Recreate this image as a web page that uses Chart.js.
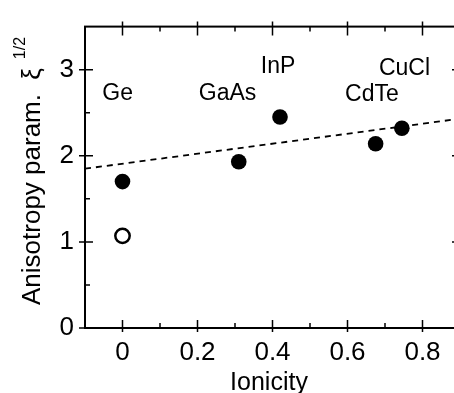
<!DOCTYPE html>
<html>
<head>
<meta charset="utf-8">
<script src="https://cdn.jsdelivr.net/npm/chart.js@4.4.1/dist/chart.umd.min.js"></script>
<style>
  html, body { margin: 0; padding: 0; overflow: hidden; background: #fff; }
  canvas { display: block; }
</style>
</head>
<body>
<canvas id="anisoChart" width="470" height="393"></canvas>
<script>
const ionicity = [0, 0.31, 0.42, 0.675, 0.745];
const anisotropy = [1.70, 1.93, 2.45, 2.14, 2.32];
const openIonicity = [0];
const openAnisotropy = [1.07];
const fitX = [-0.1, 0.9];
const fitY = [1.85, 2.43];
const labelNames = ["Ge", "GaAs", "InP", "CdTe", "CuCl"];
const labelX = [-0.013, 0.28, 0.415, 0.665, 0.752];
const labelY = [2.65, 2.65, 2.96, 2.64, 2.94];
const xTicks = [0, 0.2, 0.4, 0.6, 0.8];
const xMinorTicks = [-0.1, 0.1, 0.3, 0.5, 0.7, 0.9];
const yTicks = [0, 1, 2, 3];
const yMinorTicks = [0.5, 1.5, 2.5];

const fontFamily = "'Liberation Sans', Arial, Helvetica, sans-serif";

const toPoints = (xs, ys) => xs.map((x, i) => ({ x: x, y: ys[i] }));

// frame, inward ticks, compound labels and axis titles
const framePlugin = {
  id: "frame",
  afterDraw(chart) {
    const ctx = chart.ctx;
    const area = chart.chartArea;
    const xs = chart.scales.x;
    const ys = chart.scales.y;
    ctx.save();
    ctx.strokeStyle = "#000";
    ctx.lineWidth = 2;
    ctx.strokeRect(area.left, area.top, area.right - area.left, area.bottom - area.top);

    ctx.lineWidth = 1.5;
    ctx.beginPath();
    xTicks.forEach((v) => {
      const px = xs.getPixelForValue(v);
      ctx.moveTo(px, area.bottom + 4);
      ctx.lineTo(px, area.bottom - 8);
      ctx.moveTo(px, area.top - 5);
      ctx.lineTo(px, area.top + 9);
    });
    xMinorTicks.forEach((v) => {
      const px = xs.getPixelForValue(v);
      ctx.moveTo(px, area.bottom);
      ctx.lineTo(px, area.bottom - 5);
      ctx.moveTo(px, area.top);
      ctx.lineTo(px, area.top + 5);
    });
    yTicks.forEach((v) => {
      const py = ys.getPixelForValue(v);
      ctx.moveTo(area.left - 6, py);
      ctx.lineTo(area.left + 8, py);
      ctx.moveTo(area.right + 6, py);
      ctx.lineTo(area.right - 8, py);
    });
    yMinorTicks.forEach((v) => {
      const py = ys.getPixelForValue(v);
      ctx.moveTo(area.left, py);
      ctx.lineTo(area.left + 5, py);
      ctx.moveTo(area.right, py);
      ctx.lineTo(area.right - 5, py);
    });
    ctx.stroke();

    ctx.fillStyle = "#000";
    ctx.textAlign = "center";
    ctx.textBaseline = "alphabetic";
    ctx.font = "23px " + fontFamily;
    labelNames.forEach((name, i) => {
      ctx.fillText(name, xs.getPixelForValue(labelX[i]), ys.getPixelForValue(labelY[i]));
    });

    ctx.font = "25px " + fontFamily;
    ctx.fillText("Ionicity", 269, 390);

    // rotated y title with superscript
    ctx.translate(40, 305);
    ctx.rotate(-Math.PI / 2);
    ctx.textAlign = "left";
    ctx.font = "26px " + fontFamily;
    const mainText = "Anisotropy param.";
    ctx.fillText(mainText, 0, 0);
    let w = ctx.measureText(mainText + " ").width + 7;
    ctx.fillText("ξ", w, 0);
    w += ctx.measureText("ξ").width;
    ctx.font = "16px " + fontFamily;
    ctx.fillText("1/2", w + 9, -15);
    ctx.restore();
  }
};

const chartConfig = {
  type: "scatter",
  data: {
    datasets: [
      {
        data: toPoints(ionicity, anisotropy),
        pointRadius: 7.8,
        backgroundColor: "#000",
        borderColor: "#000",
        borderWidth: 0,
        order: 1
      },
      {
        data: toPoints(openIonicity, openAnisotropy),
        pointRadius: 7.2,
        backgroundColor: "#fff",
        borderColor: "#000",
        borderWidth: 2.5,
        order: 1
      },
      {
        data: toPoints(fitX, fitY),
        showLine: true,
        pointRadius: 0,
        borderColor: "#000",
        borderWidth: 1.8,
        borderDash: [6, 5],
        order: 3
      }
    ]
  },
  options: {
    responsive: false,
    animation: false,
    devicePixelRatio: 1,
    layout: { padding: { top: 14, right: 10, left: 0, bottom: 0 } },
    plugins: { legend: { display: false }, tooltip: { enabled: false } },
    scales: {
      x: {
        type: "linear",
        min: -0.1,
        max: 0.9,
        afterBuildTicks: (s) => { s.ticks = xTicks.map((v) => ({ value: v })); },
        afterFit: (s) => { s.height = 65; },
        grid: { display: false, drawTicks: false },
        border: { display: false },
        ticks: {
          color: "#000",
          padding: 9,
          font: { family: fontFamily, size: 26 },
          callback: (v) => String(v)
        }
      },
      y: {
        type: "linear",
        min: 0,
        max: 3.5,
        afterBuildTicks: (s) => { s.ticks = yTicks.map((v) => ({ value: v })); },
        afterFit: (s) => { s.width = 85; },
        grid: { display: false, drawTicks: false },
        border: { display: false },
        ticks: {
          color: "#000",
          padding: 11,
          font: { family: fontFamily, size: 26 },
          callback: (v) => String(v)
        }
      }
    }
  },
  plugins: [framePlugin]
};

const anisoChart = new Chart(document.getElementById("anisoChart"), chartConfig);
</script>
</body>
</html>
